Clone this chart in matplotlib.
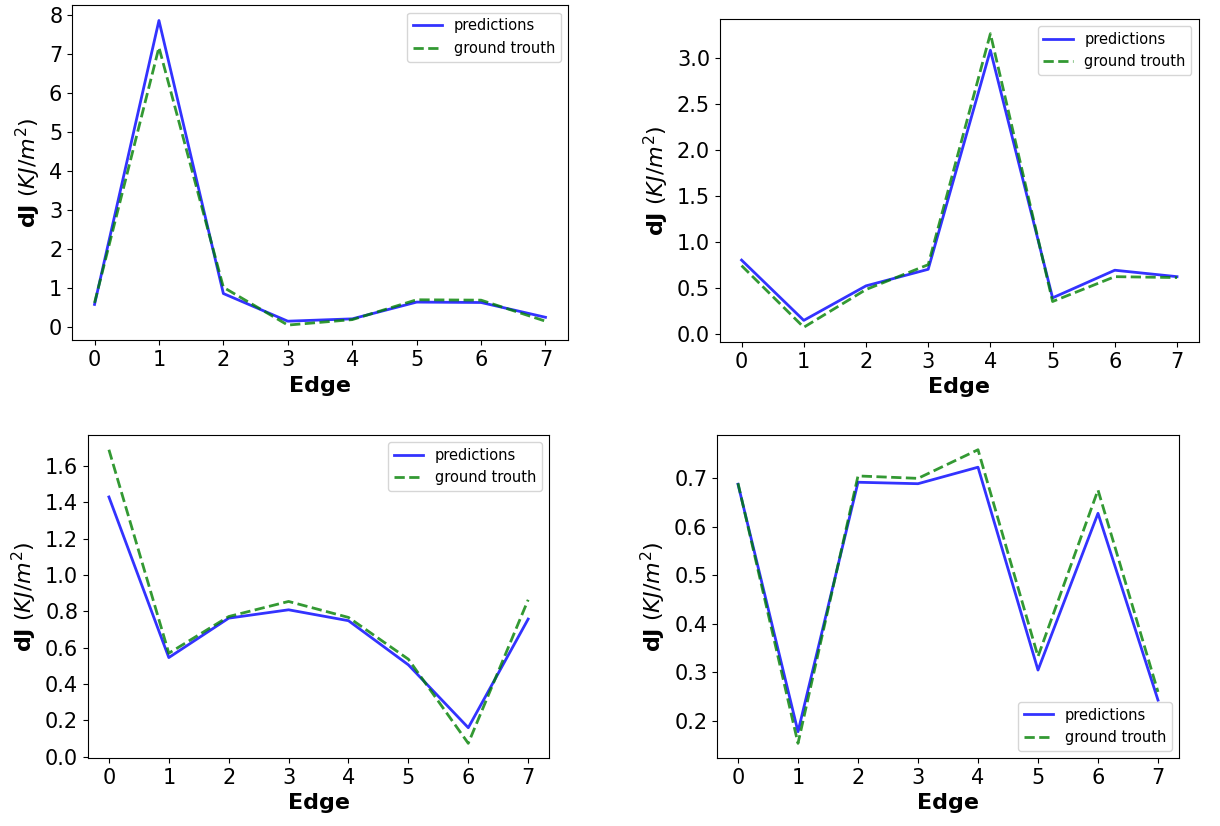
import matplotlib
matplotlib.use('Agg')
import matplotlib.pyplot as plt
from matplotlib.ticker import MultipleLocator

edges = [0, 1, 2, 3, 4, 5, 6, 7]

# values
pred_1 = [0.58, 7.87, 0.86, 0.15, 0.21, 0.64, 0.63, 0.25]
true_1 = [0.62, 7.18, 1.02, 0.05, 0.19, 0.70, 0.69, 0.15]

pred_2 = [0.80, 0.145, 0.52, 0.70, 3.08, 0.39, 0.69, 0.62]
true_2 = [0.74, 0.07, 0.48, 0.75, 3.26, 0.35, 0.62, 0.61]

pred_3 = [1.43, 0.546, 0.763, 0.809, 0.749, 0.506, 0.16, 0.758]
true_3 = [1.69, 0.57, 0.772, 0.855, 0.767, 0.537, 0.074, 0.864]

pred_4 = [0.688, 0.178, 0.692, 0.689, 0.723, 0.305, 0.628, 0.243]
true_4 = [0.690, 0.154, 0.705, 0.700, 0.759, 0.333, 0.676, 0.26]

# (predictions, truth, axes rect, legend loc, y tick step)
panels = [
    (pred_1, true_1, [0.059, 0.588, 0.4066, 0.4056], 'upper right', 1),
    (pred_2, true_2, [0.590, 0.586, 0.3926, 0.391], 'upper right', 0.5),
    (pred_3, true_3, [0.0721, 0.0823, 0.378, 0.391], 'upper right', 0.2),
    (pred_4, true_4, [0.5877, 0.0823, 0.3787, 0.391], 'lower right', 0.1),
]

fig = plt.figure(figsize=(12.2, 8.26), dpi=100)

for pred, true, pos, loc, step in panels:
    ax = fig.add_axes(pos)
    ax.plot(edges, pred, color='blue', alpha=0.8, linewidth=2, label='predictions')
    ax.plot(edges, true, color='green', alpha=0.8, linewidth=2, linestyle='--', label='ground trouth')
    ax.set_xticks(edges)
    ax.yaxis.set_major_locator(MultipleLocator(step))
    ax.tick_params(labelsize=15)
    ax.set_xlabel('Edge', fontsize=16, fontweight='bold')
    ax.set_ylabel(r'$\mathbf{dJ}$ $(KJ/m^2)$', fontsize=16)
    ax.legend(loc=loc, fontsize=10.5)

plt.savefig('out.png', dpi=100)
plt.close()
